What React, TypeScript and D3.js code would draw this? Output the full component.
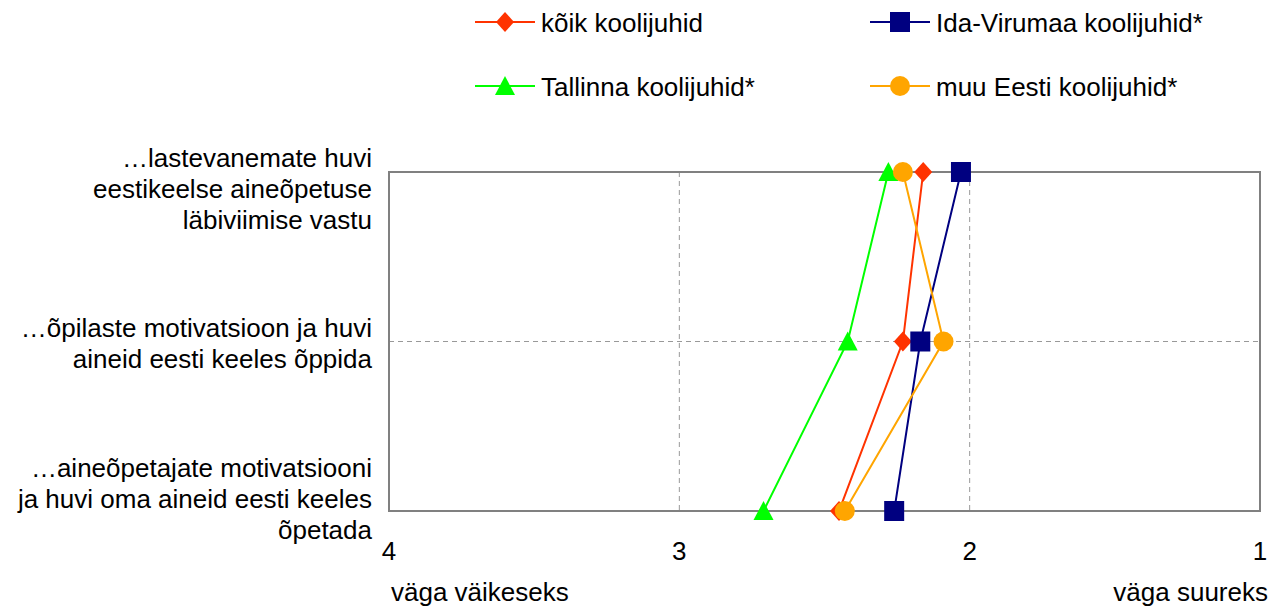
import React from "react";
import * as d3 from "d3";

const categories: string[][] = [
  ["…lastevanemate huvi", "eestikeelse aineõpetuse", "läbiviimise vastu"],
  ["…õpilaste motivatsioon ja huvi", "aineid eesti keeles õppida"],
  ["…aineõpetajate motivatsiooni", "ja huvi oma aineid eesti keeles", "õpetada"],
];
const seriesNames = ["kõik koolijuhid", "Ida-Virumaa koolijuhid*", "Tallinna koolijuhid*", "muu Eesti koolijuhid*"];
const koik = [2.16, 2.23, 2.45];
const idaVirumaa = [2.03, 2.17, 2.26];
const tallinna = [2.28, 2.42, 2.71];
const muuEesti = [2.23, 2.09, 2.43];
const xTicks = [4, 3, 2, 1];
const axisEndLabels = ["väga väikeseks", "väga suureks"];

const colors = ["#FF3300", "#000080", "#00FF00", "#FFA500"];
const markers = ["diamond", "square", "triangle", "circle"];
const seriesData = [koik, idaVirumaa, tallinna, muuEesti];

const W = 1288, H = 609;
const L = 389, R = 1260, T = 172, B = 511;
const FONT = "'Liberation Sans', Arial, sans-serif";
const FS = 26;

function Marker({ type, x, y, color }: { type: string; x: number; y: number; color: string }) {
  if (type === "square") return <rect x={x - 10} y={y - 10} width={20} height={20} fill={color} />;
  if (type === "circle") return <circle cx={x} cy={y} r={10} fill={color} />;
  if (type === "diamond") return <path d={`M${x},${y - 10}L${x + 9},${y}L${x},${y + 10}L${x - 9},${y}Z`} fill={color} />;
  return <path d={`M${x},${y - 10}L${x + 10},${y + 9}L${x - 10},${y + 9}Z`} fill={color} />;
}

export default function App() {
  const x = d3.scaleLinear().domain([4, 1]).range([L, R]);
  const y = d3.scalePoint<number>().domain(categories.map((_, i) => i)).range([T, B]);
  const line = d3.line<number>().x((d) => x(d)).y((_, i) => y(i)!);
  const labelOffsets = [26, 11, -3];
  const lineH = 31;
  const legendPos = [
    [475, 22],
    [870, 22],
    [475, 86],
    [870, 86],
  ];
  return (
    <svg width={W} height={H} style={{ position: "absolute", left: 0, top: 0, background: "#fff" }} fontFamily={FONT}>
      {[3, 2].map((t) => (
        <line key={t} x1={x(t)} x2={x(t)} y1={T} y2={B} stroke="#999" strokeWidth={1} strokeDasharray="5,4" />
      ))}
      <line x1={L} x2={R} y1={y(1)!} y2={y(1)!} stroke="#999" strokeWidth={1} strokeDasharray="5,4" />
      <rect x={L} y={T} width={R - L} height={B - T} fill="none" stroke="#808080" strokeWidth={2} />
      {xTicks.map((t) => (
        <text key={t} x={x(t)} y={560} fontSize={FS} textAnchor="middle" fill="#000">
          {t}
        </text>
      ))}
      <text x={L + 2} y={601} fontSize={FS} fill="#000">{axisEndLabels[0]}</text>
      <text x={1268} y={601} fontSize={FS} textAnchor="end" fill="#000">{axisEndLabels[1]}</text>
      {categories.map((lines, i) => {
        const cy = y(i)! + labelOffsets[i];
        const start = cy - ((lines.length - 1) * lineH) / 2;
        return (
          <text key={i} fontSize={FS} textAnchor="end" fill="#000">
            {lines.map((ln, j) => (
              <tspan key={j} x={372} y={start + j * lineH}>{ln}</tspan>
            ))}
          </text>
        );
      })}
      {seriesData.map((s, si) => (
        <g key={si}>
          <path d={line(s)!} fill="none" stroke={colors[si]} strokeWidth={2} />
          {s.map((v, i) => (
            <Marker key={i} type={markers[si]} x={x(v)} y={y(i)!} color={colors[si]} />
          ))}
        </g>
      ))}
      {seriesNames.map((n, si) => {
        const [lx, ly] = legendPos[si];
        return (
          <g key={n}>
            <line x1={lx} x2={lx + 60} y1={ly} y2={ly} stroke={colors[si]} strokeWidth={2} />
            <Marker type={markers[si]} x={lx + 30} y={ly} color={colors[si]} />
            <text x={lx + 66} y={ly + 10} fontSize={FS} fill="#000">{n}</text>
          </g>
        );
      })}
    </svg>
  );
}
